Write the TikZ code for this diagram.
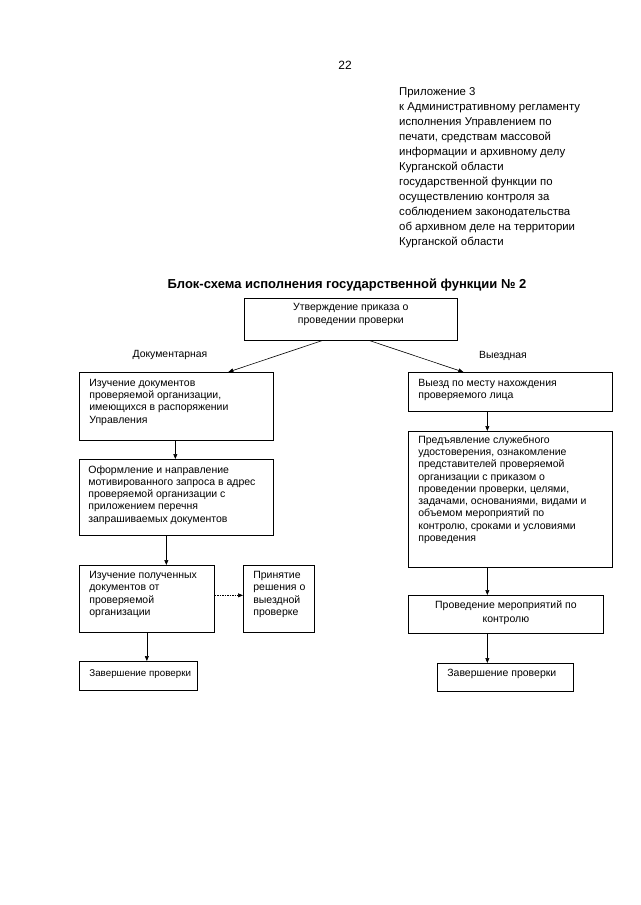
\documentclass[tikz,border=0pt]{standalone}
\usepackage{fontspec}
\setmainfont{Liberation Sans}
\usetikzlibrary{arrows.meta}
\newcommand\bxl[5]{\parbox[c][#2pt][t]{#1pt}{\vspace*{#3pt}\raggedright\leftskip=#4pt\relax\noindent #5\par}}
\newcommand\bxm[5]{\parbox[c][#2pt][t]{#1pt}{\vspace*{#3pt}\centering\baselineskip=#4pt\relax #5\par}}
\tikzset{
  stepbox/.style={draw, line width=0.7pt, inner sep=0pt, anchor=north west, font=\fontsize{10.5}{12.3}\selectfont},
  arr/.style={line width=0.6pt, -{Triangle[length=5pt,width=4pt]}},
  lbl/.style={font=\fontsize{10.4}{12}\selectfont, inner sep=0pt}
}
\begin{document}
\begin{tikzpicture}[x=1pt,y=-1pt]
\useasboundingbox (0,0) rectangle (640,905);
\node[font=\fontsize{12}{14}\selectfont, inner sep=0pt] (pg) at (345,65) {22};
\node[font=\fontsize{11.4}{15}\selectfont, inner sep=0pt, anchor=north west, align=left] (app) at (399,87.8)
 {Приложение 3\\
 к Административному регламенту\\
 исполнения Управлением по\\
 печати, средствам массовой\\
 информации и архивному делу\\
 Курганской области\\
 государственной функции по\\
 осуществлению контроля за\\
 соблюдением законодательства\\
 об архивном деле на территории\\
 Курганской области};
\node[font=\fontsize{13}{15}\selectfont\bfseries, inner sep=0pt] (title) at (347,285) {Блок-схема исполнения государственной функции № 2};

\node[stepbox] (top) at (244,298) {\bxm{213}{42}{4.5}{13}{Утверждение приказа о\\ проведении проверки}};

\node[lbl] (ldoc) at (170,355) {Документарная};
\node[lbl] (lvyezd) at (503,356) {Выездная};

\node[stepbox] (L1) at (79,372) {\bxl{194}{68}{6.6}{10}{Изучение документов\\ проверяемой организации,\\ имеющихся в распоряжении\\ Управления}};
\node[stepbox] (L2) at (79,459) {\bxl{194}{76}{6.1}{9}{Оформление и направление\\ мотивированного запроса в адрес\\ проверяемой организации с\\ приложением перечня\\ запрашиваемых документов}};
\node[stepbox] (L3) at (79,565) {\bxl{135}{67}{6.1}{10}{Изучение полученных\\ документов от\\ проверяемой\\ организации}};
\node[stepbox] (P) at (243,565) {\bxl{71}{67}{6.1}{10}{Принятие\\ решения о\\ выездной\\ проверке}};
\node[stepbox, font=\fontsize{9.8}{12.3}\selectfont] (L5) at (79,661) {\bxl{118}{29}{8.4}{10}{\mbox{Завершение проверки}}};

\node[stepbox] (R1) at (408,372) {\bxl{204}{39}{6.6}{10}{Выезд по месту нахождения\\ проверяемого лица}};
\node[stepbox] (R2) at (408,431) {\bxl{204}{136}{4.1}{10}{Предъявление служебного\\ удостоверения, ознакомление\\ представителей проверяемой\\ организации с приказом о\\ проведении проверки, целями,\\ задачами, основаниями, видами и\\ объемом мероприятий по\\ контролю, сроками и условиями\\ проведения}};
\node[stepbox] (R3) at (408,595) {\bxm{195}{38}{5.1}{14}{Проведение мероприятий по\\ контролю}};
\node[stepbox] (R4) at (437,663) {\bxl{136}{28}{6.1}{10}{\mbox{Завершение проверки}}};

\draw[arr] ([xshift=-29pt]top.south) -- ([xshift=52pt]L1.north);
\draw[arr] ([xshift=19pt]top.south) -- ([xshift=-47pt]R1.north);

\draw[arr] ([xshift=-1pt]L1.south) -- ([xshift=-1pt]L1.south |- L2.north);
\draw[arr] ([xshift=-10pt]L2.south) -- ([xshift=-10pt]L2.south |- L3.north);
\draw[arr, dash pattern=on 1.5pt off 1pt] ([yshift=3.5pt]L3.east) -- ([yshift=3.5pt]L3.east -| P.west);
\draw[arr] (L3.south) -- (L3.south |- L5.north);

\draw[arr] ([xshift=-23pt]R1.south) -- ([xshift=-23pt]R1.south |- R2.north);
\draw[arr] ([xshift=-23pt]R2.south) -- ([xshift=-23pt]R2.south |- R3.north);
\draw[arr] ([xshift=-23pt]R1.south |- R3.south) -- ([xshift=-23pt]R1.south |- R4.north);
\end{tikzpicture}
\end{document}
